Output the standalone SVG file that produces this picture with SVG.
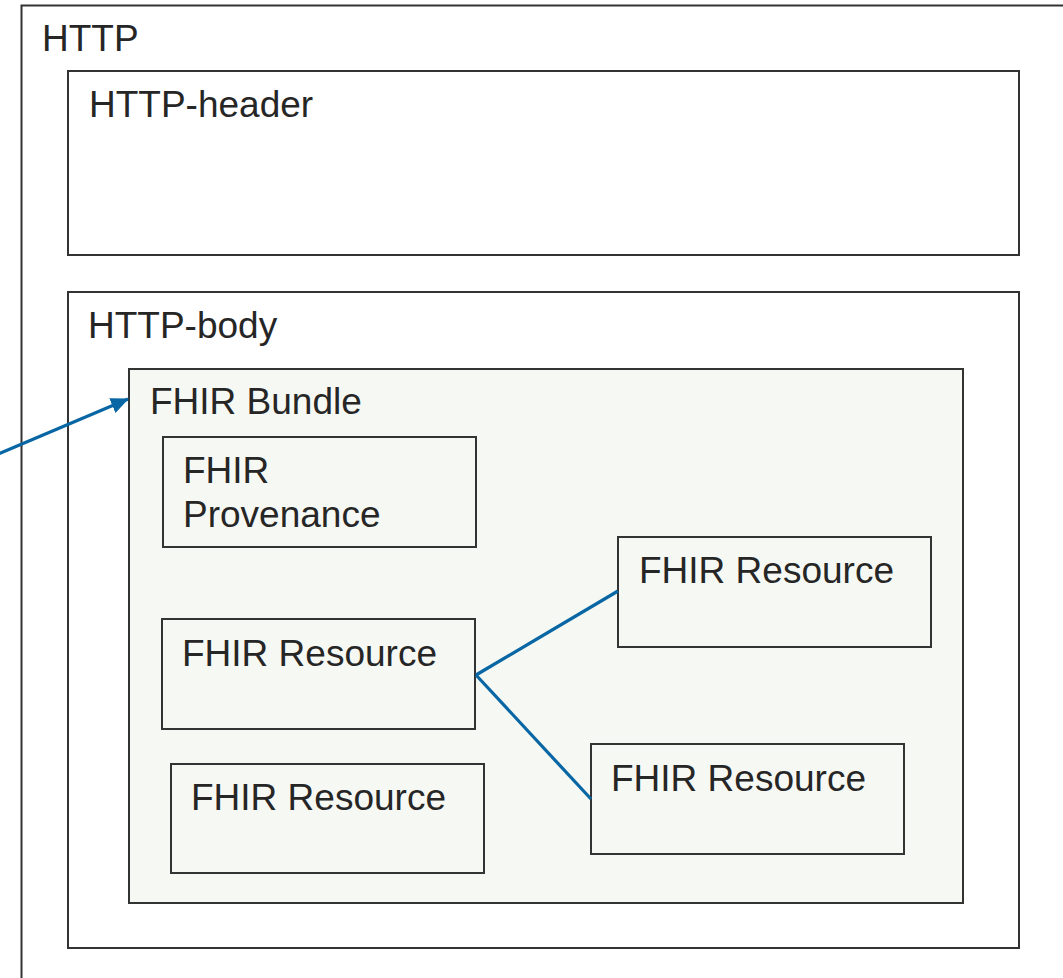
<svg xmlns="http://www.w3.org/2000/svg" width="1063" height="978" viewBox="0 0 1063 978">
<style>
.box{fill:#ffffff;stroke:#333333;stroke-width:2}
.inner{fill:#f6f8f3;stroke:#333333;stroke-width:2}
.lbl{font-family:"Liberation Sans",Arial,sans-serif;font-size:37px;fill:#262626}
.conn{stroke:#0766a3;stroke-width:3.2;fill:none}
</style>
<defs>
<marker id="ah2" viewBox="0 0 18 16" refX="17" refY="8" markerWidth="18" markerHeight="16" orient="auto" markerUnits="userSpaceOnUse">
<path d="M0,0 L18,8 L0,16 z" fill="#0766a3"/>
</marker>
</defs>
<rect width="1063" height="978" fill="#ffffff"/>
<g id="http">
<rect class="box" x="21.5" y="5.5" width="1060" height="990"/>
<text class="lbl" x="42" y="51">HTTP</text>
</g>
<g id="http-header">
<rect class="box" x="68" y="71" width="951" height="184"/>
<text class="lbl" x="89" y="117">HTTP-header</text>
</g>
<g id="http-body">
<rect class="box" x="68" y="292" width="951" height="656"/>
<text class="lbl" x="88" y="338">HTTP-body</text>
</g>
<g id="fhir-bundle">
<rect class="inner" x="129" y="369" width="834" height="534"/>
<text class="lbl" x="150" y="414">FHIR Bundle</text>
</g>
<g id="fhir-provenance">
<rect class="inner" x="163" y="437" width="313" height="110"/>
<text class="lbl" x="183" y="483">FHIR</text>
<text class="lbl" x="183" y="527">Provenance</text>
</g>
<g id="fhir-resource-1">
<rect class="inner" x="162" y="619" width="313" height="110"/>
<text class="lbl" x="182" y="666">FHIR Resource</text>
</g>
<g id="fhir-resource-2">
<rect class="inner" x="171" y="764" width="313" height="109"/>
<text class="lbl" x="191" y="810">FHIR Resource</text>
</g>
<g id="fhir-resource-3">
<rect class="inner" x="618" y="537" width="313" height="110"/>
<text class="lbl" x="639" y="583">FHIR Resource</text>
</g>
<g id="fhir-resource-4">
<rect class="inner" x="591" y="744" width="313" height="110"/>
<text class="lbl" x="611" y="791">FHIR Resource</text>
</g>
<g id="connectors">
<line class="conn" x1="-2" y1="454" x2="128" y2="399" marker-end="url(#ah2)"/>
<line class="conn" x1="476" y1="675" x2="618" y2="591"/>
<line class="conn" x1="476" y1="675" x2="591" y2="799"/>
</g>
</svg>
